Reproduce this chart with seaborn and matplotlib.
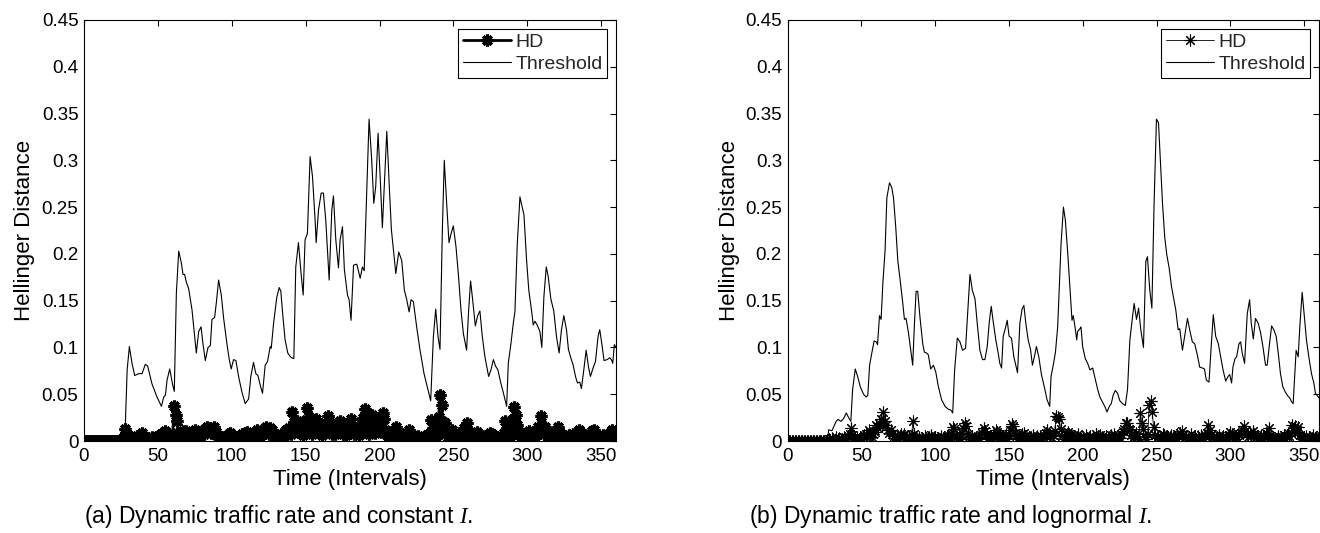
import numpy as np
import matplotlib
matplotlib.use("Agg")
import matplotlib.pyplot as plt
import seaborn as sns

# ---------------- data ----------------
x_ticks = [0, 50, 100, 150, 200, 250, 300, 350]
y_ticks = [0, 0.05, 0.1, 0.15, 0.2, 0.25, 0.3, 0.35, 0.4, 0.45]
y_tick_labels = ["0", "0.05", "0.1", "0.15", "0.2", "0.25", "0.3", "0.35", "0.4", "0.45"]

intervals = list(range(0, 361))

# (a) threshold polyline vertices
thr_a_x = [0, 27.6, 29.2, 30.7, 32.5, 34.3, 37.0, 39.3, 41.5, 43.1, 46.0, 49.4, 52.4, 53.9, 55.1, 56.2,
           58.0, 60.0, 61.1, 62.5, 64.1, 65.9, 67.0, 68.1, 69.2, 70.8, 73.1, 76.0, 77.6, 79.2, 80.5,
           82.1, 83.9, 85.5, 86.6, 88.4, 89.5, 91.1, 92.9, 94.5, 96.7, 98.3, 99.6, 101.2, 102.8, 104.6,
           106.9, 109.1, 111.4, 112.9, 114.7, 116.3, 117.7, 119.2, 120.8, 122.6, 124.2, 126.0, 126.7,
           128.3, 130.5, 132.1, 133.2, 134.6, 136.1, 137.9, 139.7, 140.6, 142.0, 143.3, 145.1, 146.9,
           148.3, 149.6, 151.2, 153.0, 154.6, 156.4, 157.1, 158.7, 160.5, 162.0, 163.6, 165.9, 167.7,
           168.8, 170.4, 172.2, 173.3, 174.9, 176.2, 178.3, 179.4, 180.7,
           182.4, 184.6, 186.9, 188.4, 189.6, 190.9, 192.9, 194.7, 196.1, 197.4, 199.0, 200.4, 201.9,
           203.5, 204.9, 206.5, 208.0, 209.4, 211.0, 213.0, 215.0, 216.8, 218.4, 220.0, 221.3, 222.9,
           225.1, 227.4, 230.1, 232.6, 234.6, 236.4, 238.0, 239.6, 240.9, 242.5, 243.8, 245.4, 247.0,
           248.3, 249.9, 251.7, 253.3, 255.1, 256.7, 258.9, 260.3, 261.6, 263.0, 264.8, 266.4, 267.9,
           269.5, 271.3, 273.8, 275.4, 277.0, 278.5, 280.1, 281.9, 283.7, 286.0, 287.1, 288.9, 290.5,
           291.6, 293.2, 295.0, 296.5, 297.7, 299.5, 301.0, 302.8, 304.0, 305.1, 306.7, 308.5, 309.8,
           311.2, 312.8, 314.1, 315.9, 317.9, 319.7, 321.5, 323.1, 324.7, 326.5, 327.8, 329.4, 331.0,
           332.6, 333.9, 335.5, 336.6, 338.2, 339.8, 341.4, 342.7, 344.5, 346.1, 347.9, 349.0, 350.4,
           351.9, 354.0, 355.8, 356.9, 357.8, 358.9, 360.0]
thr_a_y = [0, 0, 0.076, 0.101, 0.083, 0.070, 0.072, 0.072, 0.082, 0.080, 0.061, 0.047, 0.037, 0.047,
           0.049, 0.065, 0.077, 0.060, 0.053, 0.158, 0.203, 0.190, 0.178, 0.178, 0.170, 0.163, 0.140,
           0.094, 0.117, 0.122, 0.104, 0.086, 0.100, 0.102, 0.130, 0.132, 0.147, 0.172, 0.156, 0.131,
           0.104, 0.087, 0.077, 0.087, 0.086, 0.069, 0.052, 0.040, 0.045, 0.069, 0.084, 0.072, 0.070,
           0.060, 0.051, 0.081, 0.085, 0.101, 0.099, 0.126, 0.154, 0.164, 0.160, 0.133, 0.108, 0.094,
           0.090, 0.089, 0.088, 0.186, 0.212, 0.179, 0.156, 0.215, 0.222, 0.304, 0.283, 0.236, 0.212,
           0.247, 0.265, 0.265, 0.236, 0.172, 0.247, 0.262, 0.215, 0.185, 0.215, 0.229, 0.183, 0.156,
           0.151, 0.129,
           0.188, 0.189, 0.174, 0.186, 0.182, 0.247, 0.344, 0.300, 0.254, 0.272, 0.329, 0.283, 0.228,
           0.283, 0.331, 0.275, 0.226, 0.204, 0.179, 0.202, 0.193, 0.161, 0.151, 0.138, 0.151, 0.149,
           0.122, 0.097, 0.072, 0.056, 0.043, 0.111, 0.141, 0.111, 0.098, 0.226, 0.300, 0.254, 0.212,
           0.221, 0.230, 0.208, 0.179, 0.140, 0.115, 0.097, 0.140, 0.171, 0.151, 0.123, 0.134, 0.139,
           0.112, 0.090, 0.069, 0.076, 0.087, 0.080, 0.076, 0.063, 0.052, 0.037, 0.083, 0.104, 0.126,
           0.138, 0.211, 0.261, 0.250, 0.242, 0.193, 0.161, 0.140, 0.124, 0.128, 0.124, 0.117, 0.100,
           0.154, 0.186, 0.176, 0.152, 0.139, 0.112, 0.094, 0.119, 0.134, 0.119, 0.098, 0.089, 0.081,
           0.069, 0.062, 0.063, 0.056, 0.076, 0.097, 0.079, 0.069, 0.078, 0.085, 0.112, 0.119, 0.104,
           0.086, 0.087, 0.089, 0.087, 0.083, 0.103, 0.100]

# (a) HD per interval, in thousandths
hd_a_milli = [
    0, 0, 0, 0, 0, 0, 0, 0, 0, 0,
    0, 0, 0, 0, 0, 0, 0, 0, 0, 0,
    0, 0, 0, 0, 0, 0, 0, 4, 13, 7,
    3, 2, 4, 1, 3, 2, 5, 4, 6, 9,
    5, 2, 1, 3, 1, 2, 4, 2, 1, 3,
    5, 3, 7, 8, 6, 11, 5, 2, 3, 1,
    8, 37, 28, 21, 9, 5, 7, 11, 8, 11,
    5, 3, 2, 4, 6, 12, 9, 5, 3, 6,
    10, 8, 13, 15, 11, 14, 9, 12, 15, 10,
    6, 3, 1, 2, 4, 1, 3, 5, 8, 9,
    6, 3, 2, 1, 3, 1, 4, 7, 6, 9,
    10, 7, 5, 2, 3, 6, 9, 12, 8, 5,
    10, 7, 13, 15, 11, 8, 14, 12, 6, 3,
    2, 5, 4, 8, 6, 3, 7, 12, 9, 14,
    8, 31, 20, 12, 21, 15, 9, 17, 6, 14,
    22, 35, 26, 13, 8, 16, 11, 23, 15, 9,
    12, 6, 14, 18, 10, 27, 22, 13, 8, 12,
    7, 15, 10, 21, 14, 8, 11, 6, 13, 9,
    16, 23, 12, 8, 14, 10, 6, 12, 18, 25,
    34, 20, 11, 7, 16, 28, 21, 9, 14, 22,
    15, 10, 30, 24, 12, 8, 5, 9, 4, 7,
    11, 15, 8, 4, 2, 6, 3, 5, 9, 7,
    12, 8, 4, 2, 1, 3, 5, 2, 1, 2,
    4, 2, 6, 3, 9, 22, 14, 6, 3, 12,
    26, 49, 38, 20, 19, 9, 4, 6, 9, 12,
    6, 3, 5, 2, 7, 4, 9, 14, 13, 19,
    11, 6, 3, 5, 2, 7, 10, 6, 3, 2,
    5, 3, 1, 4, 6, 9, 7, 4, 2, 1,
    3, 2, 5, 4, 9, 21, 14, 8, 3, 12,
    24, 36, 28, 17, 11, 6, 9, 4, 2, 6,
    3, 11, 8, 4, 2, 5, 9, 15, 11, 27,
    16, 8, 15, 10, 4, 6, 3, 5, 9, 7,
    11, 15, 9, 5, 2, 4, 1, 3, 6, 2,
    4, 7, 3, 5, 8, 12, 9, 5, 3, 6,
    2, 4, 8, 5, 11, 12, 7, 3, 5, 2,
    4, 6, 3, 1, 3, 5, 9, 12, 8, 4,
    1]

# (b) threshold polyline vertices
thr_b_x = [0, 27.2, 27.9, 30.1, 33.0, 34.2, 36.2, 38.0, 39.8, 41.4, 42.9, 44.1, 45.9, 47.5, 49.3,
           51.5, 53.3, 54.4, 55.6, 57.1, 58.7, 60.1, 61.0, 62.3, 63.4, 64.6, 66.1, 67.3, 69.1, 70.6,
           71.8, 73.3, 74.7, 76.3, 78.1, 79.2, 80.3, 81.9, 83.5, 84.8, 86.0, 87.1, 88.2, 89.8, 91.6,
           92.7, 94.3, 95.4, 97.0, 98.8, 100.4, 102.2, 104.4, 106.7, 108.9, 110.7, 111.9, 113.2,
           115.0, 116.8, 118.6, 120.6, 122.0, 123.6, 125.2, 127.0, 128.5, 130.3, 132.1, 133.7,
           135.3, 136.6, 138.0, 139.3, 141.1, 142.7, 143.8, 145.0, 146.1, 147.5, 148.8, 150.1,
           151.7, 153.3, 154.6, 155.8, 157.4, 158.9, 160.1, 161.4, 163.0, 164.6, 165.9, 167.5,
           168.6, 170.2, 172.0, 174.2, 175.8, 177.6,
           178.5, 180.1, 181.5, 183.0, 184.2, 185.3, 186.9, 188.2, 189.8, 191.4, 192.7, 193.6,
           195.0, 195.9, 196.5, 198.1, 198.8, 199.9, 201.7, 203.3, 204.9, 206.7, 208.5, 210.1,
           211.6, 213.9, 215.2, 216.4, 218.0, 219.3, 220.6, 222.0, 223.6, 225.1, 226.9, 228.8,
           230.3, 231.9, 233.7, 234.8, 236.4, 237.8, 239.3, 241.1, 242.7, 243.8, 245.4, 246.8,
           248.3, 249.9, 251.3, 252.4, 254.0, 255.5, 256.9, 258.5, 260.1, 261.4, 263.0, 264.6,
           265.7, 267.5, 269.1, 270.9, 272.4, 274.2, 275.8, 277.6, 279.2, 281.0, 282.4, 283.7,
           285.5, 287.1, 288.4, 290.0, 291.8, 293.4, 295.0, 296.8, 298.4, 299.5, 300.8, 301.7,
           303.1, 304.2, 305.8, 306.9, 308.0, 309.6, 311.4, 313.0, 314.1, 315.5, 317.0, 318.8,
           320.4, 322.0, 323.8, 324.9, 326.5, 327.9, 329.4, 331.0, 332.4, 333.9, 335.5, 337.3,
           338.9, 340.2, 341.4, 342.5, 343.6, 344.5, 345.9, 347.0, 348.6, 350.1, 351.5, 353.1,
           354.9, 356.5, 357.6, 360.0]
thr_b_y = [0, 0.001, 0.012, 0.011, 0.021, 0.023, 0.021, 0.024, 0.030, 0.025, 0.021, 0.055, 0.077,
           0.069, 0.058, 0.050, 0.047, 0.049, 0.081, 0.094, 0.107, 0.106, 0.103, 0.134, 0.130, 0.169,
           0.204, 0.260, 0.276, 0.271, 0.260, 0.229, 0.193, 0.172, 0.147, 0.130, 0.131, 0.116, 0.097,
           0.081, 0.126, 0.160, 0.160, 0.131, 0.104, 0.095, 0.094, 0.092, 0.077, 0.081, 0.074, 0.058,
           0.044, 0.037, 0.034, 0.033, 0.030, 0.076, 0.110, 0.106, 0.097, 0.099, 0.135, 0.178, 0.161,
           0.152, 0.126, 0.097, 0.087, 0.087, 0.101, 0.126, 0.144, 0.128, 0.108, 0.094, 0.083, 0.078,
           0.112, 0.120, 0.129, 0.112, 0.110, 0.090, 0.081, 0.073, 0.126, 0.141, 0.145, 0.126, 0.108,
           0.098, 0.081, 0.092, 0.101, 0.090, 0.071, 0.056, 0.044, 0.037,
           0.069, 0.082, 0.095, 0.122, 0.168, 0.211, 0.250, 0.236, 0.201, 0.161, 0.129, 0.134, 0.119,
           0.108, 0.117, 0.120, 0.122, 0.101, 0.088, 0.083, 0.076, 0.078, 0.066, 0.055, 0.047, 0.040,
           0.036, 0.031, 0.037, 0.040, 0.049, 0.054, 0.051, 0.043, 0.040, 0.038, 0.055, 0.108, 0.133,
           0.147, 0.130, 0.142, 0.119, 0.100, 0.192, 0.197, 0.161, 0.142, 0.254, 0.344, 0.340, 0.304,
           0.254, 0.218, 0.199, 0.185, 0.165, 0.154, 0.140, 0.119, 0.120, 0.097, 0.113, 0.131, 0.119,
           0.106, 0.104, 0.092, 0.079, 0.078, 0.077, 0.065, 0.063, 0.104, 0.135, 0.112, 0.104, 0.090,
           0.076, 0.064, 0.069, 0.071, 0.062, 0.079, 0.088, 0.090, 0.104, 0.106, 0.094, 0.083, 0.136,
           0.151, 0.126, 0.109, 0.131, 0.126, 0.116, 0.101, 0.081, 0.081, 0.104, 0.123, 0.119, 0.112,
           0.094, 0.072, 0.058, 0.052, 0.048, 0.046, 0.042, 0.040, 0.072, 0.097, 0.090, 0.122, 0.159,
           0.133, 0.108, 0.090, 0.072, 0.062, 0.051, 0.046]

# (b) HD per interval, in thousandths
hd_b_milli = [
    0, 0, 0, 0, 0, 0, 0, 0, 0, 0,
    0, 0, 0, 0, 0, 0, 0, 0, 0, 0,
    0, 0, 0, 0, 0, 0, 0, 1, 2, 1,
    3, 2, 1, 4, 2, 3, 1, 2, 4, 3,
    2, 5, 7, 14, 6, 3, 2, 4, 1, 3,
    2, 4, 6, 8, 5, 12, 9, 4, 7, 10,
    17, 14, 19, 23, 16, 31, 21, 17, 12, 9,
    12, 8, 5, 3, 6, 2, 4, 7, 5, 8,
    3, 2, 5, 1, 6, 21, 8, 3, 2, 4,
    1, 3, 2, 5, 3, 1, 4, 6, 3, 2,
    4, 1, 3, 2, 5, 3, 1, 2, 4, 6,
    3, 8, 15, 13, 6, 4, 2, 3, 9, 14,
    19, 16, 8, 4, 2, 5, 3, 1, 4, 2,
    3, 6, 9, 14, 11, 7, 3, 5, 2, 4,
    6, 12, 10, 8, 5, 3, 1, 4, 7, 2,
    5, 12, 18, 16, 9, 6, 3, 2, 4, 7,
    9, 5, 3, 1, 2, 4, 6, 3, 2, 5,
    3, 5, 2, 4, 6, 9, 12, 8, 5, 3,
    6, 11, 27, 26, 24, 13, 5, 2, 4, 7,
    10, 8, 6, 3, 5, 2, 4, 7, 3, 1,
    4, 2, 6, 3, 1, 5, 2, 4, 3, 7,
    5, 2, 6, 4, 3, 1, 5, 2, 4, 6,
    3, 7, 4, 2, 5, 3, 8, 11, 13, 19,
    19, 13, 12, 6, 3, 5, 9, 4, 2, 30,
    19, 13, 4, 2, 8, 38, 43, 31, 15, 6,
    3, 5, 2, 4, 8, 6, 3, 5, 2, 4,
    6, 3, 5, 2, 7, 4, 9, 11, 6, 3,
    5, 2, 4, 7, 3, 1, 4, 2, 5, 3,
    6, 4, 2, 5, 9, 17, 12, 6, 3, 5,
    2, 4, 6, 3, 1, 5, 2, 4, 3, 6,
    10, 7, 4, 2, 5, 8, 6, 9, 12, 16,
    11, 7, 4, 9, 6, 11, 8, 3, 5, 2,
    4, 6, 3, 5, 9, 6, 14, 3, 2, 4,
    3, 1, 5, 2, 4, 3, 6, 2, 5, 9,
    5, 9, 17, 14, 16, 10, 15, 6, 3, 2,
    3, 5, 2, 4, 1, 3, 6, 2, 4, 3,
    5]

captions = ["(a) Dynamic traffic rate and constant $\\mathit{I}$.",
            "(b) Dynamic traffic rate and lognormal $\\mathit{I}$."]
series_names = ["HD", "Threshold"]

# ---------------- style ----------------
sns.set_theme(style="white")
plt.rcParams["font.family"] = ["Liberation Sans", "DejaVu Sans"]
plt.rcParams["mathtext.fontset"] = "custom"
plt.rcParams["mathtext.it"] = "Liberation Serif:italic"
plt.rcParams["mathtext.rm"] = "Liberation Serif"

W, H = 1320, 533
fig = plt.figure(figsize=(W / 100, H / 100), dpi=100)
fig.patch.set_facecolor("white")

ax_a = fig.add_axes([84 / W, 92 / H, 532 / W, 421 / H])
ax_b = fig.add_axes([787.5 / W, 92 / H, 531.5 / W, 421 / H])

hd_a = [v / 1000 for v in hd_a_milli]
hd_b = [v / 1000 for v in hd_b_milli]
asterisk = (8, 2, 0)

# (a)
sns.lineplot(x=intervals, y=hd_a, ax=ax_a, color="black", linewidth=2.0,
             marker=asterisk, markersize=8.5, markeredgewidth=2.3,
             markeredgecolor="black", estimator=None, sort=False, label=series_names[0])
sns.lineplot(x=thr_a_x, y=thr_a_y, ax=ax_a, color="black", linewidth=0.8,
             estimator=None, sort=False, label=series_names[1])
# (b)
sns.lineplot(x=intervals, y=hd_b, ax=ax_b, color="black", linewidth=0.6,
             marker=asterisk, markersize=8.5, markeredgewidth=0.8,
             markeredgecolor="black", estimator=None, sort=False, label=series_names[0])
sns.lineplot(x=thr_b_x, y=thr_b_y, ax=ax_b, color="black", linewidth=0.8,
             estimator=None, sort=False, label=series_names[1])

for ax, cap, cx, ylx in [(ax_a, captions[0], 278 / W, -0.092), (ax_b, captions[1], 950 / W, -0.089)]:
    ax.set_xlim(0, 360)
    ax.set_ylim(0, 0.45)
    ax.set_xticks(x_ticks)
    ax.set_xticklabels([str(t) for t in x_ticks])
    ax.set_yticks(y_ticks)
    ax.set_yticklabels(y_tick_labels)
    ax.tick_params(direction="in", top=True, right=True, length=4, width=0.8,
                   labelsize=13.5, colors="black")
    ax.tick_params(axis="x", pad=5)
    ax.tick_params(axis="y", pad=4)
    for sp in ax.spines.values():
        sp.set_visible(True)
        sp.set_color("black")
        sp.set_linewidth(0.8)
    ax.set_xlabel("Time (Intervals)", fontsize=16, color="black")
    ax.set_ylabel("Hellinger Distance", fontsize=16, color="black")
    ax.xaxis.set_label_coords(0.5, -0.066)
    ax.yaxis.set_label_coords(ylx, 0.5)
    ax.grid(False)
    leg = ax.legend(loc="upper right", fontsize=14, frameon=True, fancybox=False,
                    edgecolor="black", framealpha=1, handlelength=2.5,
                    borderaxespad=0.45, borderpad=0.25, labelspacing=0.2,
                    handletextpad=0.2)
    leg.get_frame().set_linewidth(0.8)
    fig.text(cx, 16 / H, cap, ha="center", va="center", fontsize=16.5, color="black")

fig.savefig("out.png", dpi=100, facecolor="white")
